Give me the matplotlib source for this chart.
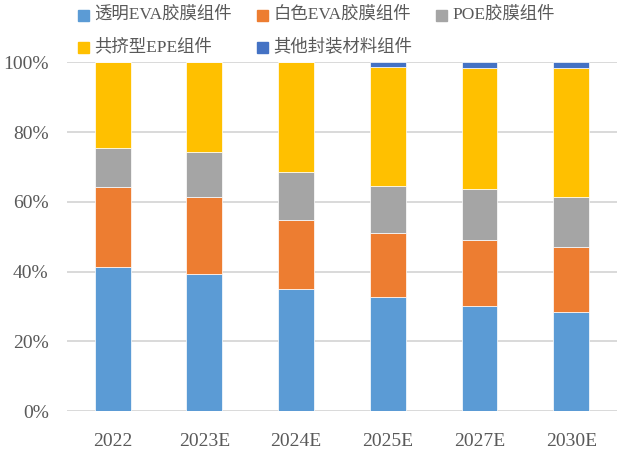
import numpy as np
import matplotlib
matplotlib.use('Agg')
import matplotlib.pyplot as plt
from matplotlib.patches import Rectangle

# ------------ data (share of each encapsulant type, %) ------------
years = ['2022', '2023E', '2024E', '2025E', '2027E', '2030E']
series_names = ['透明EVA胶膜组件', '白色EVA胶膜组件', 'POE胶膜组件',
                '共挤型EPE组件', '其他封装材料组件']
clear_eva = [41.4, 39.4, 34.9, 32.8, 30.0, 28.5]
white_eva = [22.8, 22.1, 20.0, 18.3, 19.0, 18.4]
poe       = [11.3, 12.9, 13.6, 13.5, 14.7, 14.6]
epe       = [24.5, 25.6, 31.5, 34.1, 34.6, 36.8]
other     = [0.0, 0.0, 0.0, 1.3, 1.7, 1.7]
y_ticks = [0, 20, 40, 60, 80, 100]

colors = ['#5B9BD5', '#ED7D31', '#A5A5A5', '#FFC000', '#4472C4']
text_color = '#595959'
font = ['Liberation Serif', 'Noto Sans CJK SC']
plt.rcParams['font.family'] = font

fig = plt.figure(figsize=(6.2, 4.54), dpi=100)
ax = fig.add_axes([0.1077, 0.0947, 0.8878, 0.7681])

x = np.arange(len(years))
bottom = np.zeros(len(years))
for vals, col in zip([clear_eva, white_eva, poe, epe, other], colors):
    vals = np.asarray(vals)
    ax.bar(x, vals, 0.39, bottom=bottom, color=col, edgecolor='white',
           linewidth=0.5, zorder=3)
    bottom += vals

ax.set_xlim(-0.5, len(years) - 0.5)
ax.set_ylim(0, 100)
ax.set_yticks(y_ticks)
ax.set_yticklabels([f'{v}%' for v in y_ticks])
ax.set_xticks(x)
ax.set_xticklabels(years)
for v in y_ticks:
    ax.axhline(v, color='#D9D9D9', linewidth=1.4, zorder=1)
for s in ax.spines.values():
    s.set_visible(False)
ax.tick_params(axis='y', length=0, pad=13, labelsize=14, labelcolor=text_color)
ax.tick_params(axis='x', length=0, pad=16, labelsize=14, labelcolor=text_color)

# -- legend, laid out in rows of three --------------------------------------
for i, (name, col) in enumerate(zip(series_names, colors)):
    row, c = divmod(i, 3)
    px = 78 + c * 179
    py = 15 + row * 32
    fig.patches.append(Rectangle((px / 620, 1 - (py + 6) / 454), 11 / 620, 11 / 454,
                                 transform=fig.transFigure, color=col))
    fig.text((px + 16) / 620, 1 - py / 454, name, ha='left', va='center',
             fontsize=12.5, color=text_color, family=font)

fig.savefig('out.png', dpi=100)
